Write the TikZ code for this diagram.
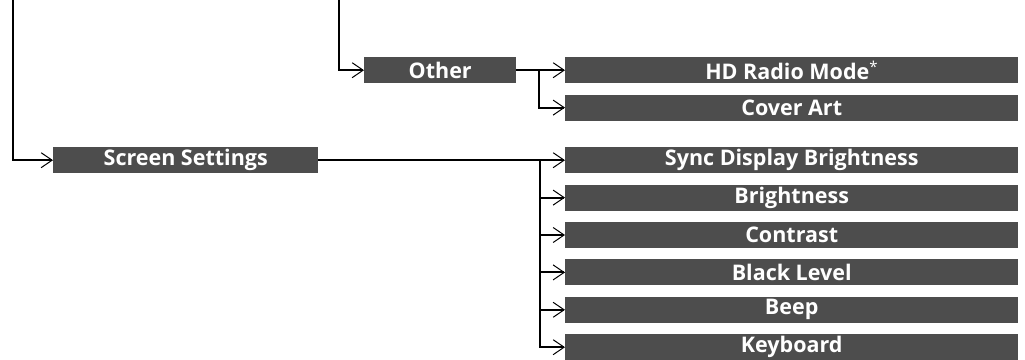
\documentclass[tikz,border=0pt]{standalone}
\usepackage{fontspec}
\usepackage{xcolor}
\usepackage{tikz}
\usetikzlibrary{arrows.meta,positioning}
\newfontfamily\menufont{Open Sans}
\definecolor{mngray}{HTML}{4D4D4D}

\begin{document}
\begin{tikzpicture}[
  x=1pt,y=-1pt,
  node distance=11pt,
  menu/.style={fill=mngray,text=white,inner sep=0pt,minimum height=26pt,anchor=north west,font=\menufont\bfseries\fontsize{21.5}{24}\selectfont},
  item/.style={menu,minimum width=453pt},
  arrow/.style={-{Straight Barb[length=11pt,width=15pt,line width=1pt]},line width=2pt}
]
  \useasboundingbox (0,0) rectangle (1025,359);
  \coordinate (rootleft) at (13,0);
  \coordinate (rootmid) at (339,0);
  \node[menu,minimum width=265pt] (screen) at (53,147) {Screen Settings};
  \node[menu,minimum width=152pt] (other) at (364,57) {Other};
  \node[item] (hdradio) at (565,57) {HD Radio Mode\textsuperscript{\normalfont\menufont*}};
  \node[item,below=of hdradio] (coverart) {Cover Art};
  \node[item] (sync) at (565,147) {Sync Display Brightness};
  \node[item,below=of sync] (brightness) {Brightness};
  \node[item,below=of brightness] (contrast) {Contrast};
  \node[item,below=of contrast] (blacklevel) {Black Level};
  \node[item,below=of blacklevel] (beep) {Beep};
  \node[item,below=of beep] (keyboard) {Keyboard};
  \draw[arrow] (rootleft) |- (screen.west);
  \draw[arrow] (rootmid) |- (other.west);
  \draw[arrow] (other) -- (hdradio);
  \draw[arrow] (other.east) -- ++(23,0) |- (coverart.west);
  \draw[arrow] (screen) -- (sync);
  \foreach \n in {brightness,contrast,blacklevel,beep,keyboard}
    \draw[arrow] (screen.east) -- ++(222,0) |- (\n.west);
\end{tikzpicture}
\end{document}
